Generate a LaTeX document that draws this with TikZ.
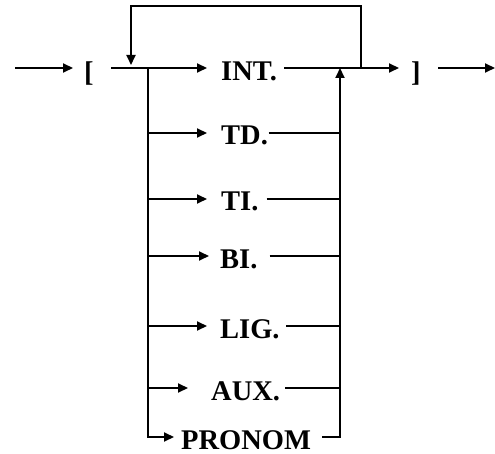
\documentclass[tikz,border=0pt]{standalone}
\usepackage{fontspec}
\setmainfont{Liberation Serif}
\usetikzlibrary{arrows.meta}
\begin{document}
\begin{tikzpicture}[x=1bp,y=-1bp,
  ln/.style={line width=2bp},
  arr/.style={ln,-{Triangle[length=10bp,width=9bp]}},
  lbl/.style={inner sep=0pt,anchor=base west,font=\fontsize{28.5bp}{30bp}\selectfont\bfseries}]
\useasboundingbox (0,0) rectangle (495,454);
% text nodes
\node[lbl] (lb) at (84,82) {[};
\node[lbl] (rb) at (411,82) {]};
\node[lbl] (INT) at (221,81) {INT.};
\node[lbl] (TD) at (221,145) {TD.};
\node[lbl] (TI) at (221,211) {TI.};
\node[lbl] (BI) at (220,268) {BI.};
\node[lbl] (LIG) at (220,338) {LIG.};
\node[lbl] (AUX) at (211,400) {AUX.};
\node[lbl] (PR) at (181,449) {PRONOM};
% coordinates
\coordinate (jIn) at (15,68);
\coordinate (jOut) at (495,68);
\coordinate (jL) at (148,68);
\coordinate (jR) at (340,68);
\coordinate (jFR) at (361,68);
\coordinate (jTR) at (361,6);
\coordinate (jTL) at (131,6);
\coordinate (jFB) at (131,65);
\coordinate (lTD) at (148,133);  \coordinate (rTD) at (340,133);
\coordinate (lTI) at (148,199);  \coordinate (rTI) at (340,199);
\coordinate (lBI) at (148,256);  \coordinate (rBI) at (340,256);
\coordinate (lLIG) at (148,326); \coordinate (rLIG) at (340,326);
\coordinate (lAUX) at (148,388); \coordinate (rAUX) at (340,388);
\coordinate (lPR) at (148,437);  \coordinate (rPR) at (340,437);
% entry and exit
\draw[arr,shorten >=11bp] (jIn) -- (jIn -| lb.west);
\draw[arr,shorten <=17.5bp] (rb.east |- jOut) -- (jOut);
% main line
\draw[arr,shorten <=17.5bp,shorten >=14bp] (lb.east |- jIn) -- (jIn -| INT.west);
\draw[arr,shorten <=7bp,shorten >=12bp] (INT.east |- jR) -- (jR -| rb.west);
% feedback loop
\draw[arr] (jFR) -- (jTR) -- (jTL) -- (jFB);
% left bar with branches
\draw[arr,shorten >=7bp] (jL) -- (lPR) -- (lPR -| PR.west);
\draw[arr,shorten >=14bp] (lTD) -- (lTD -| TD.west);
\draw[arr,shorten >=14bp] (lTI) -- (lTI -| TI.west);
\draw[arr,shorten >=11bp] (lBI) -- (lBI -| BI.west);
\draw[arr,shorten >=13bp] (lLIG) -- (lLIG -| LIG.west);
\draw[arr,shorten >=23bp] (lAUX) -- (lAUX -| AUX.west);
% right bar with branches
\draw[arr,shorten <=11bp] (PR.east |- rPR) -- (rPR) -- (jR);
\draw[ln,shorten <=0.5bp] (TD.east |- rTD) -- (rTD);
\draw[ln,shorten <=8bp] (TI.east |- rTI) -- (rTI);
\draw[ln,shorten <=12bp] (BI.east |- rBI) -- (rBI);
\draw[ln,shorten <=6.5bp] (LIG.east |- rLIG) -- (rLIG);
\draw[ln,shorten <=5bp] (AUX.east |- rAUX) -- (rAUX);
\end{tikzpicture}
\end{document}
